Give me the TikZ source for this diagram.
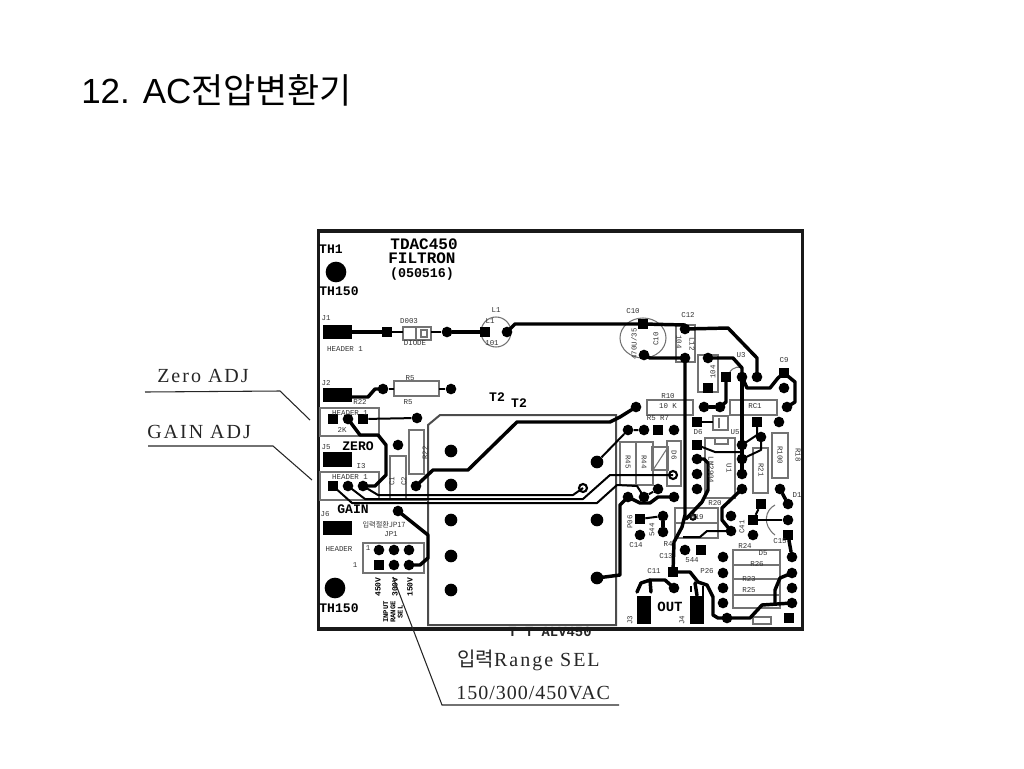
\documentclass[tikz,border=0pt]{standalone}
\usepackage{fontspec}
\setmainfont{Liberation Sans}
\newfontfamily\krf{Noto Sans CJK KR}
\newfontfamily\serf{Liberation Serif}
\newfontfamily\serfw[LetterSpace=10]{Liberation Serif}
\newfontfamily\serfv[LetterSpace=5]{Liberation Serif}
\newfontfamily\monof{Liberation Mono}
\newcommand{\padC}[3]{\node[cpad] (#1) at (#2,#3) {};}
\newcommand{\padS}[3]{\node[spad] (#1) at (#2,#3) {};}
\newcommand{\tlab}[4][]{\node[tiny label,#1] at (#2,#3) {#4};}
\newcommand{\hlab}[4][]{\node[head label,#1] at (#2,#3) {#4};}
\tikzset{
  cpad/.style={circle,fill=black,inner sep=0pt,minimum size=8pt},
  spad/.style={rectangle,fill=black,inner sep=0pt,minimum size=7.5pt},
  bigpad/.style={circle,fill=black,inner sep=0pt,minimum size=15.5pt},
  tpad/.style={circle,fill=black,inner sep=0pt,minimum size=9.5pt},
  ringpad/.style={circle,draw=black,line width=1.6pt,fill=white,inner sep=0pt,minimum size=6pt},
  conn/.style={rectangle,fill=black,inner sep=0pt},
  trace/.style={line width=2.6pt,black,line join=round,line cap=round},
  fine/.style={line width=1.5pt,black,line join=round},
  silk/.style={line width=0.8pt,black!55},
  leader/.style={line width=0.8pt,black!85},
  tiny label/.style={inner sep=0pt,font=\monof\fontsize{5.6pt}{6pt}\selectfont,text=black!80},
  head label/.style={inner sep=0pt,font=\monof\bfseries\fontsize{9.8pt}{10pt}\selectfont},
  call label/.style={inner sep=0pt,font=\serfw\fontsize{15pt}{17pt}\selectfont,text=black!85},
}
\begin{document}
\begin{tikzpicture}[x=0.75pt,y=-0.75pt]
\useasboundingbox (0,0) rectangle (1024,768);
\node[anchor=west,inner sep=0pt,font=\fontsize{26.2pt}{28pt}\selectfont] (title) at (81,90) {12. AC{\krf 전압변환기}};

% ---------- transformer T2 and board outline
\node[inner sep=0pt,font=\monof\bfseries\fontsize{10.4pt}{10pt}\selectfont,text=black!85] (alv) at (550,632) {T T ALV450};
\draw[line width=1.5pt,black!70] (428,425) -- (440,415) -- (616,415) -- (616,625) -- (428,625) -- cycle;
\node[rectangle,draw=black!90,line width=2.6pt,minimum width=363pt,minimum height=298.5pt,inner sep=0pt] (brd) at (560.5,430) {};

% ---------- silk outlines
\draw[silk] (403,327) rectangle (431,340);
\draw[silk] (416,327) rectangle (431,340);
\draw[silk] (421,330) rectangle (427,337);
\draw[silk] (394,381) rectangle (439,396);
\draw[silk] (320,408) rectangle (379,436);
\draw[silk] (320,472) rectangle (379,500);
\draw[silk] (320,500) -- (428,500);
\draw[silk] (390,456) rectangle (406,500);
\draw[silk] (409,430) rectangle (424,474);
\draw[silk] (363,543) rectangle (424,573);
\draw[silk] (496,332) circle (15);
\draw[silk] (643,338) ellipse (23 and 20);
\draw[silk] (676,325) rectangle (695,362);
\draw[silk] (698,355) rectangle (718,392);
\draw[silk] (647,400) rectangle (693,415);
\draw[silk] (730,400) rectangle (777,415);
\draw[silk] (713,416) rectangle (728,430);
\draw[silk] (719,418) -- (719,428);
\draw[silk] (708,500) -- (708,500);
\draw[silk] (620,442) rectangle (653,485);
\draw[silk] (636,442) -- (636,485);
\draw[silk] (652,447) rectangle (668,470);
\draw[silk] (653,470) -- (668,447);
\draw[silk] (667,441) rectangle (681,486);
\draw[silk] (705,438) rectangle (735,498);
\draw[silk] (715,438) rectangle (728,444);
\draw[silk] (753,448) rectangle (768,493);
\draw[silk] (772,433) rectangle (788,478);
\draw[silk] (675,508) rectangle (718,538);
\draw[silk] (675,523) -- (718,523);
\draw[silk] (733,550) rectangle (780,608);
\draw[silk] (733,565) -- (780,565);
\draw[silk] (733,579) -- (780,579);
\draw[silk] (733,595) -- (780,595);
\draw[silk] (753,617) rectangle (771,624);
\draw[silk] (775,505) .. controls (765,510) and (762,525) .. (775,535);
\draw[silk] (728,380) .. controls (728,370) and (735,365) .. (742,368);

% ---------- connectors (rectangular pads)
\node[conn,minimum width=21.75pt,minimum height=10.5pt] (j1) at (337.5,332) {};
\node[conn,minimum width=21.75pt,minimum height=10.5pt] (j2) at (337.5,395) {};
\node[conn,minimum width=21.75pt,minimum height=11.25pt] (j5) at (337.5,459.5) {};
\node[conn,minimum width=21.75pt,minimum height=10.5pt] (j6) at (337.5,528) {};
\node[conn,minimum width=10.5pt,minimum height=21.5pt] (j3) at (644,610) {};
\node[conn,minimum width=10.5pt,minimum height=21.5pt] (j4) at (697,610) {};

% ---------- pads, left part
\node[bigpad] (th1) at (336,272) {};
\node[bigpad] (th2) at (335,588) {};
\padS{a1}{387}{332}
\padC{a2}{447}{332}
\padS{a3}{485}{332}
\padC{a4}{507}{332}
\padC{b1}{383}{389}
\padC{b2}{451}{389}
\padS{c1}{333}{419}
\padC{c2}{348}{419}
\padS{c3}{363}{419}
\padC{c4}{417}{418}
\padC{d1}{398}{445}
\padS{e1}{333}{486}
\padC{e2}{348}{486}
\padC{e3}{363}{486}
\padC{e4}{416}{486}
\padC{f1}{398}{511}
\padC{g1}{379}{550}
\padC{g2}{394}{550}
\padC{g3}{409}{550}
\padS{g4}{379}{565}
\padC{g5}{394}{565}
\padC{g6}{409}{565}
% transformer pins
\node[tpad] (t1) at (451,451) {};
\node[tpad] (t2) at (451,485) {};
\node[tpad] (t3) at (451,520) {};
\node[tpad] (t4) at (451,556) {};
\node[tpad] (t5) at (451,590) {};
\node[tpad] (t6) at (597,462) {};
\node[tpad] (t7) at (597,520) {};
\node[tpad] (t8) at (597,578) {};

% ---------- pads, right part
\padS{h1}{643}{324}
\padC{h2}{644}{355}
\padC{h3}{685}{329}
\padC{h4}{685}{358}
\padC{k1}{708}{358}
\padS{k2}{708}{388}
\padS{k3}{726}{377}
\padC{k4}{742}{377}
\padC{k5}{757}{377}
\padS{k6}{784}{373}
\padC{k7}{784}{388}
\padC{k8}{787}{407}
\padC{m1}{636}{407}
\padC{m2}{704}{407}
\padC{m3}{720}{407}
\padC{n1}{628}{430}
\padC{n2}{644}{430}
\padS{n3}{658}{430}
\padC{n4}{674}{430}
\padS{n5}{697}{422}
\padS{n6}{757}{422}
\padC{n7}{779}{422}
\padS{u1}{697}{445}
\padC{u2}{697}{459}
\padC{u3}{697}{474}
\padC{u4}{697}{489}
\padC{v1}{742}{445}
\padC{v2}{742}{459}
\padC{v3}{742}{474}
\padC{v4}{742}{489}
\padC{w1}{761}{437}
\padC{w2}{780}{489}
\padS{w3}{761}{504}
\padC{w4}{788}{504}
\padS{w5}{753}{520}
\padC{w6}{788}{520}
\padC{w7}{753}{535}
\padS{w8}{788}{535}
\padC{p1}{628}{497}
\padC{p2}{644}{497}
\padC{p3}{658}{489}
\padC{p4}{674}{497}
\padS{q1}{640}{519}
\padC{q2}{663}{516}
\padC{q3}{663}{532}
\padC{q4}{640}{535}
\padC{q5}{731}{516}
\padC{q6}{731}{531}
\padC{q7}{685}{550}
\padS{q8}{701}{550}
\padS{s1}{673}{572}
\padC{s2}{674}{588}
\padC{x1}{723}{557}
\padC{x2}{723}{573}
\padC{x3}{723}{588}
\padC{x4}{723}{603}
\padC{x5}{727}{618}
\padC{y1}{792}{557}
\padC{y2}{792}{573}
\padC{y3}{792}{588}
\padC{y4}{792}{603}
\padS{y5}{789}{618}
\node[ringpad] (r1) at (583,488) {};
\node[ringpad] (r2) at (673,475) {};
\node[ringpad,minimum size=4pt] (r3) at (693,517) {};

% ---------- traces
\draw[trace] (j1) -- (a1);
\draw[fine] (a1) -- (403,332);
\draw[fine] (431,332) -- (a2);
\draw[trace] (a2) -- (a3);
\draw[trace] (a4.center) -- (515,324) -- (h1.center) -- (685,325) -- (h3.center);
\draw[trace] (h3.center) -- (728,328) -- (757,358) -- (k5.center);
\draw[trace] (j2.east) ++(0,2) -- (368,397) -- (375,389) -- (b1.center);
\draw[fine] (b1) -- (394,389) (439,389) -- (b2);
\draw[trace] (h2.center) -- (650,358) -- (h4.center);
\draw[trace] (h4.center) -- (685,515) -- (682,527) -- (674,542) -- (s1.center);
\draw[trace] (u2.center) -- (704,459) -- (708,463) -- (708,490) -- (702,502) -- (686,519);
\draw[trace] (s1.center) -- (690,572) -- (698,582) -- (707,585) -- (713,597) -- (713,615) -- (718,618) -- (x5.center) -- (750,618) -- (762,605) -- (y4.center);
\draw[trace] (s2.center) -- (665,580) -- (650,580) -- (641,583) -- (637,592);
\draw[trace] (650,580) -- (651,592);
\draw[trace] (695,583) -- (j4.north);
\draw[fine] (691,586) -- (691,592);
\draw[fine] (703,586) -- (703,596);
\draw[trace] (k1.center) -- (733,358) -- (742,368) -- (k4.center);
\draw[trace] (k4.center) -- (v1.center) -- (v2.center);
\draw[trace] (v2.center) -- (v3.center);
\draw[trace] (k3.center) -- (726,402) -- (m3.center);
\draw[trace] (m2) -- (m3);
\draw[fine] (n5) -- (713,422);
\draw[trace] (k4.center) -- (747,388) -- (770,388) -- (778,378) -- (k6.center) -- (795,382) -- (795,402) -- (k8.center);
\draw[trace] (e4.center) -- (433,470) -- (468,470) -- (517,422) -- (610,422) -- (620,417) -- (m1.center);
\draw[trace] (c2.center) -- (360,435) -- (378,435) -- (386,445) -- (386,475) -- (375,486) -- (e3.center);
\draw[fine] (c3) -- (c4);
\draw[trace] (f1.center) -- (428,535) -- (428,558) -- (420,565) -- (g6.center);
% triple traces across the transformer
\draw[fine] (e3.center) -- (378,495) -- (573,495) -- (r1.center);
\draw[fine] (e2.center) -- (365,499) -- (583,499) -- (610,475) -- (r2.center);
\draw[fine] (e1.center) -- (352,503) -- (597,503) -- (617,485) -- (637,486) -- (p2.center);
\draw[fine] (t6) -- (n1) -- (n2);
\draw[fine] (p2) -- (p3);
\draw[trace] (p1.center) -- (640,503) -- (650,503) -- (658,497) -- (p4.center);
\draw[trace] (t8.center) -- (620,575) -- (620,505) -- (p1.center);
\draw[fine] (q1) -- (q2);
\draw[trace] (q2) -- (q3);
\draw[fine] (u1.center) -- (715,452) -- (742,452);
\draw[fine] (q6.center) -- (707,531) -- (700,537) -- (683,537);
\draw[trace] (v4.center) -- (722,508) -- (722,520) -- (q6.center);
\draw[fine] (n6.center) -- (757,435) -- (v1.center);
\draw[fine] (w1.center) -- (761,450) -- (v2.center);
\draw[fine] (w3) -- (w5);
\draw[fine] (w5) -- (w6);
\draw[trace] (w2) -- (w4);
\draw[trace] (w8) -- (y1);
\draw[trace] (y2.center) -- (780,578) -- (775,590) -- (775,603);

% ---------- board texts
\node[head label,font=\monof\bfseries\fontsize{12pt}{12pt}\selectfont] (n_t) at (424,244) {TDAC450};
\node[head label,font=\monof\bfseries\fontsize{12pt}{12pt}\selectfont] (n_f) at (422,258.5) {FILTRON};
\node[head label,font=\monof\bfseries\fontsize{10pt}{11pt}\selectfont] (n_d) at (422,274.5) {(050516)};
\hlab{331}{249}{TH1}
\hlab{339}{291}{TH150}
\hlab{339}{608}{TH150}
\hlab{358}{446}{ZERO}
\hlab{353}{509}{GAIN}
\hlab{497}{397}{T2}
\hlab{519}{403}{T2}
\node[head label,font=\monof\bfseries\fontsize{10.5pt}{11pt}\selectfont] (n_o) at (670,607) {OUT};
\tlab{326}{318}{J1}
\tlab{345}{349}{HEADER 1}
\tlab{326}{383}{J2}
\tlab{360}{402}{R22}
\tlab{350}{413}{HEADER 1}
\tlab{342}{430}{2K}
\tlab{326}{447}{J5}
\tlab{361}{466}{I3}
\tlab{350}{477}{HEADER 1}
\tlab{325}{514}{J6}
\tlab{339}{549}{HEADER}
\tlab{355}{565}{1}
\tlab{368}{548}{1}
\tlab{391}{534}{JP1}
\node[tiny label,font=\krf\fontsize{5.4pt}{6pt}\selectfont] at (384,525) {입력절환JP17};
\tlab{496}{310}{L1}
\tlab{490}{321}{L1}
\tlab{492}{343}{101}
\tlab{409}{321}{D003}
\tlab{415}{343}{DIODE}
\tlab{410}{378}{R5}
\tlab{408}{402}{R5}
\tlab[rotate=90]{392}{481}{C1}
\tlab[rotate=90]{404}{481}{C2}
\tlab[rotate=90]{425}{453}{R22}
\tlab{633}{311}{C10}
\tlab{688}{315}{C12}
\tlab{784}{360}{C9}
\tlab[rotate=90]{656}{339}{C10}
\tlab[rotate=90]{634}{344}{470U/35}
\tlab[rotate=-90]{679}{342}{104}
\tlab[rotate=-90]{692}{344}{L12}
\tlab[rotate=90]{713}{372}{104}
\tlab{741}{355}{U3}
\tlab{668}{396}{R10}
\tlab{668}{406}{10 K}
\tlab{755}{406}{RC1}
\tlab{658}{418}{R5 R7}
\tlab{698}{432}{D6}
\tlab{735}{432}{U5}
\tlab[rotate=-90]{628}{462}{R45}
\tlab[rotate=-90]{644}{462}{R44}
\tlab[rotate=-90]{674}{455}{D6}
\tlab[rotate=-90]{729}{468}{U1}
\tlab[rotate=-90]{711}{470}{LM2904}
\tlab[rotate=-90]{761}{470}{R21}
\tlab[rotate=-90]{780}{455}{R100}
\tlab[rotate=-90]{798}{455}{R18}
\tlab{715}{503}{R20}
\tlab{697}{517}{R19}
\tlab[rotate=90]{630}{522}{P06}
\tlab[rotate=90]{652}{530}{544}
\tlab{636}{545}{C14}
\tlab{668}{544}{R4}
\tlab{666}{556}{C13}
\tlab{692}{560}{544}
\tlab{654}{571}{C11}
\tlab{707}{571}{P26}
\tlab{745}{546}{R24}
\tlab{763}{553}{D5}
\tlab{757}{564}{R26}
\tlab{749}{579}{R23}
\tlab{749}{590}{R25}
\tlab{780}{541}{C15}
\tlab{797}{495}{D1}
\tlab[rotate=90]{742}{527}{C41}
\tlab[rotate=90]{630}{620}{J3}
\tlab[rotate=90]{682}{620}{J4}
\foreach \xx/\ll in {378/450V,395/300V,410/150V}
  \node[inner sep=0pt,rotate=90,font=\monof\bfseries\fontsize{6pt}{6pt}\selectfont] at (\xx,587) {\ll};
\node[inner sep=0pt,rotate=90,align=center,font=\monof\bfseries\fontsize{5.4pt}{5.4pt}\selectfont] at (393,612) {INPUT\\RANGE\\SEL};

% ---------- call-outs
\node[call label,anchor=west] (zero) at (157,376) {Zero ADJ};
\node[call label,anchor=west] (gain) at (147,432) {GAIN ADJ};
\node[call label,anchor=west] (range) at (457,660) {{\krf\fontsize{15pt}{17pt}\selectfont 입력}Range SEL};
\node[call label,anchor=west,font=\serfv\fontsize{15pt}{17pt}\selectfont] (vac) at (456,693) {150/300/450VAC};
\coordinate (z0) at (145,392);
\coordinate (z1) at (280,391);
\coordinate (z2) at (310,420);
\coordinate (g0) at (148,446);
\coordinate (g1) at (273,446);
\coordinate (g2) at (312,480);
\coordinate (r0) at (393,577);
\coordinate (r4) at (442,705);
\coordinate (r5) at (619,705);
\draw[leader] (z0) -- (z1) -- (z2);
\draw[leader] (g0) -- (g1) -- (g2);
\draw[leader] (r0) -- (r4) -- (r5);
\end{tikzpicture}
\end{document}
